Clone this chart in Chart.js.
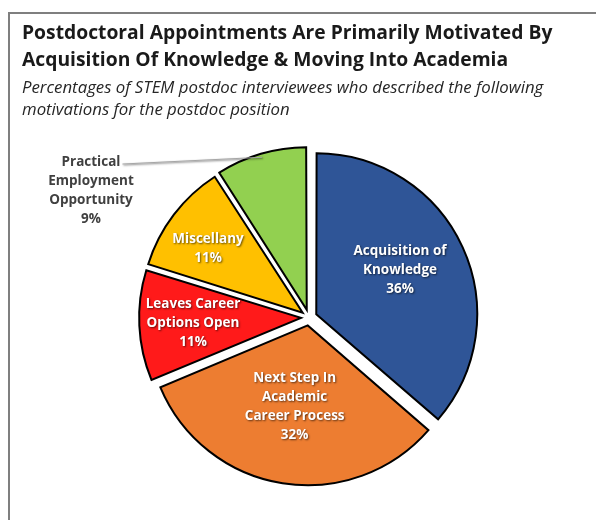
<!DOCTYPE html>
<html>
<head>
<meta charset="utf-8">
<script src="https://cdn.jsdelivr.net/npm/chart.js@4.4.1/dist/chart.umd.min.js"></script>
<style>
  html, body { margin: 0; padding: 0; background: #fff; }
</style>
</head>
<body>
<canvas id="motivations" width="596" height="520"></canvas>
<script>
const categories = [
  ['Acquisition of', 'Knowledge'],
  ['Next Step In', 'Academic', 'Career Process'],
  ['Leaves Career', 'Options Open'],
  ['Miscellany'],
  ['Practical', 'Employment', 'Opportunity']
];
const shares = [36, 32, 11, 11, 9];
const sliceColors = ['#2F5597', '#ED7D31', '#FF1A1A', '#FFC000', '#92D050'];

const titleLines = [
  'Postdoctoral Appointments Are Primarily Motivated By',
  'Acquisition Of Knowledge & Moving Into Academia'
];
const subtitleLines = [
  'Percentages of STEM postdoc interviewees who described the following',
  'motivations for the postdoc position'
];

const EXPLODE = 32;

// grey frame along the top and left edge
const framePlugin = {
  id: 'frame',
  beforeDraw(chart) {
    const ctx = chart.ctx;
    ctx.save();
    ctx.strokeStyle = '#7f7f7f';
    ctx.lineWidth = 2;
    ctx.beginPath();
    ctx.moveTo(9, chart.height);
    ctx.lineTo(9, 13);
    ctx.lineTo(chart.width, 13);
    ctx.stroke();
    ctx.restore();
  }
};

// category name + percentage on each slice, or outside with a leader line
const sliceLabels = {
  id: 'sliceLabels',
  afterDatasetsDraw(chart, args, opts) {
    const ctx = chart.ctx;
    const meta = chart.getDatasetMeta(0);
    const values = chart.data.datasets[0].data;
    const lh = opts.lineHeight;
    ctx.save();
    ctx.font = opts.font;
    ctx.textAlign = 'center';
    ctx.textBaseline = 'middle';
    meta.data.forEach((arc, i) => {
      const lines = chart.data.labels[i].concat(values[i] + '%');
      const p = arc.getProps(['x', 'y', 'startAngle', 'endAngle', 'outerRadius']);
      const mid = (p.startAngle + p.endAngle) / 2;
      const shift = EXPLODE / 4;
      const cx = p.x + Math.cos(mid) * shift;
      const cy = p.y + Math.sin(mid) * shift;
      let x, y;
      const out = opts.outside[i];
      if (out) {
        x = p.x + out.dx;
        y = p.y + out.dy;
        const y0 = y - (lines.length - 1) * lh / 2;
        const w = ctx.measureText(lines[0]).width;
        ctx.strokeStyle = '#a6a6a6';
        ctx.lineWidth = 1;
        ctx.beginPath();
        ctx.moveTo(x + w / 2 + 2, y0 + 2);
        ctx.lineTo(cx + Math.cos(mid) * p.outerRadius, cy + Math.sin(mid) * p.outerRadius);
        ctx.stroke();
        ctx.shadowColor = 'transparent';
        ctx.fillStyle = '#404040';
      } else {
        const [frac, turn] = opts.anchor[i];
        const a = mid + turn * Math.PI / 180;
        x = cx + Math.cos(a) * p.outerRadius * frac;
        y = cy + Math.sin(a) * p.outerRadius * frac;
        ctx.shadowColor = 'rgba(0,0,0,0.6)';
        ctx.shadowOffsetX = 1;
        ctx.shadowOffsetY = 1;
        ctx.shadowBlur = 2;
        ctx.fillStyle = '#ffffff';
      }
      const y0 = y - (lines.length - 1) * lh / 2;
      lines.forEach((t, k) => ctx.fillText(t, x, y0 + k * lh));
    });
    ctx.restore();
  }
};

new Chart(document.getElementById('motivations'), {
  type: 'pie',
  data: {
    labels: categories,
    datasets: [{
      data: shares,
      backgroundColor: sliceColors,
      borderColor: '#000000',
      borderWidth: 2,
      borderJoinStyle: 'miter',
      offset: EXPLODE,
      hoverOffset: 0,
      radius: 159
    }]
  },
  options: {
    responsive: false,
    animation: false,
    events: [],
    layout: { padding: { top: 0, left: 22, right: 0, bottom: 15 } },
    plugins: {
      legend: { display: false },
      tooltip: { enabled: false },
      title: {
        display: true,
        text: titleLines,
        align: 'start',
        color: '#1a1a1a',
        font: { family: 'Open Sans', size: 19.3, weight: 'bold', lineHeight: 1.4 },
        padding: { top: 20, bottom: 3 }
      },
      subtitle: {
        display: true,
        text: subtitleLines,
        align: 'start',
        color: '#262626',
        font: { family: 'Open Sans', size: 16.8, style: 'italic', lineHeight: 1.31 },
        padding: { top: 0, bottom: 9 }
      },
      sliceLabels: {
        font: 'bold 13.5px "Open Sans"',
        lineHeight: 19,
        anchor: [[0.594, -3], [0.52, 0], [0.68, 0], [0.72, -3], null],
        outside: [null, null, null, null, { dx: -218, dy: -127 }]
      }
    }
  },
  plugins: [framePlugin, sliceLabels]
});
</script>
</body>
</html>
